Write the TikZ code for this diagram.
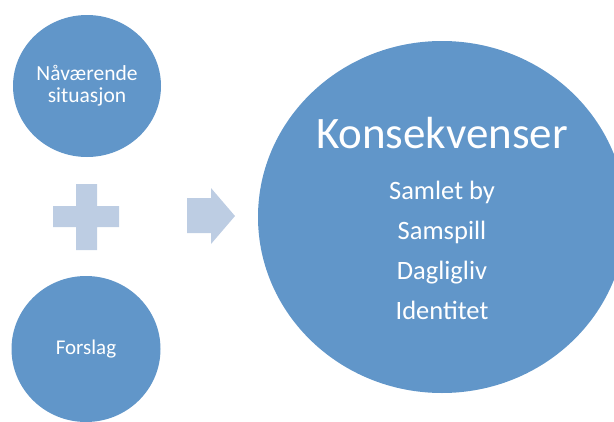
\documentclass[tikz,border=0pt]{standalone}
\usepackage{fontspec}
\setmainfont{Carlito}
\usetikzlibrary{shapes.geometric}
\definecolor{circblue}{RGB}{97,150,201}
\definecolor{signblue}{RGB}{189,205,227}

\begin{document}
\begin{tikzpicture}[x=1pt, y=-1pt, text centered,
    bubble/.style={ellipse, fill=circblue, text=white, align=center, inner sep=0pt},
    listline/.style={anchor=base, text=white, font=\fontsize{26.5}{30}\selectfont}]
    \useasboundingbox (0,0) rectangle (614,421);

    % Left side
    \node[bubble, minimum width=148pt, minimum height=142pt, font=\fontsize{21.5}{22}\selectfont]
      (situasjon) at (87,86) {Nåværende\\situasjon};
    \node[bubble, minimum width=149pt, minimum height=146pt, font=\fontsize{21}{22}\selectfont]
      (forslag) at (86,349) {Forslag};

    % Plus and arrow
    \fill[signblue] (76,184) -- (97,184) -- (97,206) -- (119,206) -- (119,227) -- (97,227)
      -- (97,250) -- (76,250) -- (76,227) -- (53,227) -- (53,206) -- (76,206) -- cycle;
    \fill[signblue] (187,198) -- (211,198) -- (211,188) -- (235,216) -- (211,244)
      -- (211,233) -- (187,233) -- cycle;

    % Result
    \node[bubble, minimum width=368pt, minimum height=352pt] (konsekvenser) at (442,217) {};
    \node[anchor=base, text=white, font=\fontsize{45}{50}\selectfont] (tittel) at (442,148) {Konsekvenser};
    \node[listline] (samlet) at (442,199) {Samlet by};
    \node[listline] (samspill) at (442,239) {Samspill};
    \node[listline] (dagligliv) at (442,279) {Dagligliv};
    \node[listline] (identitet) at (442,319) {Identitet};
\end{tikzpicture}
\end{document}
